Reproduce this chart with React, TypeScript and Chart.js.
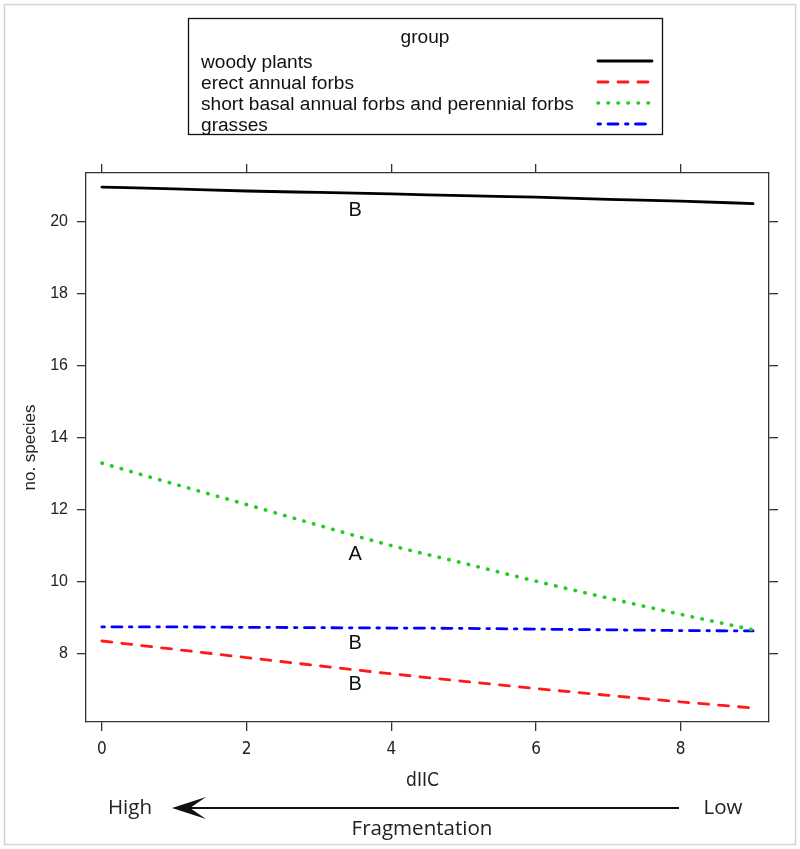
import React, { useEffect, useRef } from 'react';
import { Chart, registerables } from 'chart.js';
Chart.register(...registerables);

// ---- data ----
const xValues = [0, 1, 2, 3, 4, 5, 6, 7, 8, 9];
const woody = [20.97, 20.92, 20.86, 20.82, 20.78, 20.73, 20.69, 20.63, 20.58, 20.51];
const erect = [8.36, 8.13, 7.9, 7.67, 7.45, 7.24, 7.04, 6.85, 6.67, 6.5];
const shortBasal = [13.3, 12.72, 12.15, 11.57, 11.01, 10.52, 10.02, 9.55, 9.1, 8.67];
const grasses = [8.75, 8.75, 8.74, 8.73, 8.72, 8.71, 8.69, 8.67, 8.65, 8.64];
const seriesNames = ['woody plants', 'erect annual forbs', 'short basal annual forbs and perennial forbs', 'grasses'];
const legendTitle = 'group';
const xTicks = [0, 2, 4, 6, 8];
const yTicks = [8, 10, 12, 14, 16, 18, 20];
const letterLabels = ['B', 'A', 'B', 'B'];
const letterX = [3.5, 3.5, 3.5, 3.5];
const letterY = [20.33, 10.75, 8.28, 7.14];
const xTitle = 'dIIC';
const yTitle = 'no. species';
const arrowLeft = 'High';
const arrowRight = 'Low';
const arrowTitle = 'Fragmentation';

// ---- styles ----
const colors = ['#000000', '#ff1a1a', '#22cc22', '#0000ff'];
const dashes: number[][] = [[], [10, 10], [0.5, 9.5], [2.5, 7.5, 10, 7.5]];
const widths = [2.8, 2.8, 3.6, 2.8];
const AXIS = '#333333';
const SANS = "'Liberation Sans', Arial, sans-serif";
const NARROW = "'Liberation Sans Narrow', 'DejaVu Sans Condensed', 'Liberation Sans', sans-serif";
const HUMAN = "'Open Sans', Lato, sans-serif";

function fitSize(ctx: CanvasRenderingContext2D, text: string, family: string, target: number) {
  ctx.font = `100px ${family}`;
  const w = ctx.measureText(text).width;
  return (100 * target) / w;
}

const overlay = {
  id: 'overlay',
  afterDraw(chart: any) {
    const ctx: CanvasRenderingContext2D = chart.ctx;
    const xs = chart.scales.x;
    const ys = chart.scales.y;
    const area = chart.chartArea;
    ctx.save();
    // outer frame
    ctx.strokeStyle = '#d4d4d4';
    ctx.lineWidth = 1.5;
    ctx.strokeRect(4.5, 4.5, 791, 840);

    // legend box
    const lx0 = 188, ly0 = 18, lx1 = 662, ly1 = 134;
    const ls = fitSize(ctx, seriesNames[2], SANS, 373);
    ctx.fillStyle = '#111';
    ctx.font = `${ls}px ${SANS}`;
    ctx.textAlign = 'center';
    ctx.textBaseline = 'middle';
    ctx.fillText(legendTitle, (lx0 + lx1) / 2, 38);
    const rowY = [63, 84, 105, 126];
    ctx.textAlign = 'left';
    seriesNames.forEach((n, i) => {
      ctx.fillStyle = '#111';
      ctx.fillText(n, 201, rowY[i]);
      ctx.beginPath();
      ctx.strokeStyle = colors[i];
      ctx.lineWidth = widths[i];
      ctx.lineCap = 'round';
      ctx.setLineDash(dashes[i]);
      ctx.moveTo(598, rowY[i] - 2);
      ctx.lineTo(652, rowY[i] - 2);
      ctx.stroke();
    });
    ctx.setLineDash([]);
    ctx.lineCap = 'butt';
    ctx.strokeStyle = '#111';
    ctx.lineWidth = 1.3;
    ctx.strokeRect(lx0 + 0.5, ly0 + 0.5, lx1 - lx0, ly1 - ly0);

    // letters
    ctx.fillStyle = '#111';
    ctx.font = `20px ${SANS}`;
    ctx.textAlign = 'center';
    ctx.textBaseline = 'middle';
    letterLabels.forEach((t, i) => {
      ctx.fillText(t, xs.getPixelForValue(letterX[i]), ys.getPixelForValue(letterY[i]));
    });

    // y title
    ctx.save();
    ctx.translate(30, (area.top + area.bottom) / 2);
    ctx.rotate(-Math.PI / 2);
    ctx.font = `17px ${SANS}`;
    ctx.fillStyle = '#222';
    ctx.fillText(yTitle, 0, 0);
    ctx.restore();

    // x title
    const cx = (area.left + area.right) / 2;
    ctx.font = `19px ${NARROW}`;
    ctx.fillStyle = '#222';
    ctx.fillText(xTitle, cx - 5, 781);

    // arrow row
    const ay = 808;
    ctx.strokeStyle = '#111';
    ctx.lineWidth = 2.2;
    ctx.beginPath();
    ctx.moveTo(679, ay);
    ctx.lineTo(185, ay);
    ctx.stroke();
    ctx.fillStyle = '#111';
    ctx.beginPath();
    ctx.moveTo(172, ay);
    ctx.lineTo(206, ay - 11);
    ctx.lineTo(190, ay);
    ctx.lineTo(206, ay + 11);
    ctx.closePath();
    ctx.fill();
    const hs = fitSize(ctx, arrowTitle, HUMAN, 141);
    ctx.font = `${hs}px ${HUMAN}`;
    ctx.fillStyle = '#222';
    ctx.fillText(arrowLeft, 130, ay);
    ctx.fillText(arrowRight, 723, ay);
    ctx.fillText(arrowTitle, 422, 829);
    ctx.restore();
  },
};

export default function App() {
  const ref = useRef<HTMLCanvasElement>(null);
  useEffect(() => {
    const canvas = ref.current!;
    const series = [woody, erect, shortBasal, grasses];
    const gridOpts = { drawOnChartArea: false, drawTicks: true, tickLength: 9, color: AXIS, lineWidth: 1.3 };
    const borderOpts = { display: true, color: AXIS, width: 1.3 };
    const xRange = { min: -0.22, max: 9.22 };
    const yRange = { min: 6.11, max: 21.36 };
    const chart = new Chart(canvas, {
      type: 'line',
      data: {
        datasets: series.map((d, i) => ({
          label: seriesNames[i],
          data: xValues.map((x, j) => ({ x, y: d[j] })),
          borderColor: colors[i],
          borderWidth: widths[i],
          borderDash: dashes[i],
          borderCapStyle: 'round',
          borderJoinStyle: 'round',
          pointRadius: 0,
          fill: false,
          cubicInterpolationMode: 'monotone',
          xAxisID: 'x',
          yAxisID: 'y',
        })),
      },
      options: {
        responsive: false,
        animation: false,
        devicePixelRatio: 1,
        events: [],
        layout: { padding: 0 },
        plugins: { legend: { display: false }, title: { display: false }, tooltip: { enabled: false } },
        scales: {
          x: {
            type: 'linear', position: 'bottom', ...xRange,
            afterBuildTicks: (s: any) => { s.ticks = xTicks.map((v) => ({ value: v })); },
            afterFit: (s: any) => { s.height = 127; },
            grid: gridOpts, border: borderOpts,
            ticks: { font: { family: NARROW, size: 17 }, color: '#222', padding: 8, maxRotation: 0, autoSkip: false },
          },
          xTop: {
            type: 'linear', position: 'top', ...xRange,
            afterBuildTicks: (s: any) => { s.ticks = xTicks.map((v) => ({ value: v })); },
            afterFit: (s: any) => { s.height = 173; },
            grid: gridOpts, border: borderOpts,
            ticks: { display: false },
          },
          y: {
            type: 'linear', position: 'left', ...yRange,
            afterBuildTicks: (s: any) => { s.ticks = yTicks.map((v) => ({ value: v })); },
            afterFit: (s: any) => { s.width = 86; },
            grid: gridOpts, border: borderOpts,
            ticks: { font: { family: SANS, size: 16 }, color: '#222', padding: 9 },
          },
          yRight: {
            type: 'linear', position: 'right', ...yRange,
            afterBuildTicks: (s: any) => { s.ticks = yTicks.map((v) => ({ value: v })); },
            afterFit: (s: any) => { s.width = 31; },
            grid: gridOpts, border: borderOpts,
            ticks: { display: false },
          },
        },
      } as any,
      plugins: [overlay],
    });
    return () => chart.destroy();
  }, []);
  return (
    <div style={{ position: 'absolute', left: 0, top: 0, width: 800, height: 849, background: '#fff' }}>
      <canvas ref={ref} width={800} height={849} style={{ display: 'block' }} />
    </div>
  );
}
